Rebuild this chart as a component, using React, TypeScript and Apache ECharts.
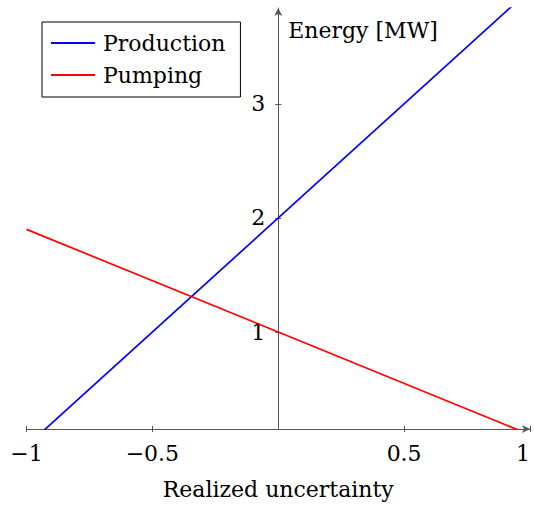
import React, { useEffect, useRef } from "react";
import * as echarts from "echarts";

const productionX = [-1, 1];
const productionY = [0, 4];
const pumpingX = [-1, 1];
const pumpingY = [1.9, 0.1];
const xTicks = [-1, -0.5, 0.5, 1];
const yTicks = [1, 2, 3];

const FONT = "DejaVu Serif";
const AXIS = "#555555";
const W = 534;
const H = 505;
const GRID = { left: 26.5, right: 4, top: 8, bottom: 76 };
// y axis sits at x = 0, the middle of the symmetric x range
const yAxisOffset = -(W - GRID.left - GRID.right) / 2;

const fmt = (v: number) => (v < 0 ? "\u2212" + Math.abs(v) : String(v));

export default function App() {
  const ref = useRef<HTMLDivElement>(null);
  useEffect(() => {
    if (!ref.current) return;
    const chart = echarts.init(ref.current, null, { renderer: "svg" });
    const xBase = {
      type: "value" as const,
      min: -1,
      max: 1,
      position: "bottom" as const,
      splitLine: { show: false },
    };
    const yBase = {
      type: "value" as const,
      min: 0.15,
      max: 3.84,
      position: "left" as const,
      offset: yAxisOffset,
      splitLine: { show: false },
    };
    chart.setOption({
      animation: false,
      backgroundColor: "#ffffff",
      textStyle: { fontFamily: FONT },
      grid: { ...GRID, outerBoundsMode: "none", containLabel: false },
      legend: {
        orient: "vertical",
        left: 42,
        top: 22,
        borderColor: "#000",
        borderWidth: 1,
        padding: [10, 15, 11, 9],
        itemGap: 10,
        itemWidth: 44,
        itemHeight: 2,
        icon: "rect",
        textStyle: {
          fontFamily: FONT,
          fontSize: 22,
          color: "#000",
          lineHeight: 22,
          padding: [0, 0, 0, 3],
        },
        data: ["Production", "Pumping"],
      },
      xAxis: [
        {
          ...xBase,
          name: "Realized uncertainty",
          nameLocation: "middle",
          nameGap: 49,
          nameTextStyle: { fontFamily: FONT, fontSize: 22, color: "#000" },
          axisLine: {
            show: true,
            onZero: false,
            lineStyle: { color: AXIS, width: 1 },
            symbol: ["none", "arrow"],
            symbolSize: [6, 8],
          },
          axisTick: { show: true, length: 3, customValues: xTicks, lineStyle: { color: AXIS } },
          axisLabel: {
            show: true,
            customValues: xTicks,
            margin: 13,
            formatter: fmt,
            alignMaxLabel: "right",
            fontFamily: FONT,
            fontSize: 22,
            color: "#000",
          },
        },
        {
          ...xBase,
          axisLine: { show: false, onZero: false },
          axisTick: { show: true, inside: true, length: 3, customValues: xTicks, lineStyle: { color: AXIS } },
          axisLabel: { show: false },
        },
      ],
      yAxis: [
        {
          ...yBase,
          name: "Energy [MW]",
          nameLocation: "end",
          nameGap: -22,
          nameTextStyle: {
            fontFamily: FONT,
            fontSize: 22,
            color: "#000",
            align: "left",
            verticalAlign: "middle",
            padding: [0, 0, 0, 10],
          },
          axisLine: {
            show: true,
            onZero: false,
            lineStyle: { color: AXIS, width: 1 },
            symbol: ["none", "arrow"],
            symbolSize: [6, 8],
          },
          axisTick: { show: true, length: 3, customValues: yTicks, lineStyle: { color: AXIS } },
          axisLabel: {
            show: true,
            customValues: yTicks,
            margin: 13,
            fontFamily: FONT,
            fontSize: 22,
            color: "#000",
          },
        },
        {
          ...yBase,
          axisLine: { show: false, onZero: false },
          axisTick: { show: true, inside: true, length: 3, customValues: yTicks, lineStyle: { color: AXIS } },
          axisLabel: { show: false },
        },
      ],
      series: [
        {
          name: "Production",
          type: "line",
          xAxisIndex: 0,
          yAxisIndex: 0,
          data: productionX.map((x, i) => [x, productionY[i]]),
          showSymbol: false,
          symbol: "none",
          clip: true,
          color: "#0000ff",
          lineStyle: { color: "#0000ff", width: 1.7 },
        },
        {
          name: "Pumping",
          type: "line",
          xAxisIndex: 0,
          yAxisIndex: 0,
          data: pumpingX.map((x, i) => [x, pumpingY[i]]),
          showSymbol: false,
          symbol: "none",
          clip: true,
          color: "#ff0000",
          lineStyle: { color: "#ff0000", width: 1.7 },
        },
      ],
    });
    return () => chart.dispose();
  }, []);
  return (
    <div
      ref={ref}
      style={{ position: "absolute", left: 0, top: 0, width: W, height: H }}
    />
  );
}
